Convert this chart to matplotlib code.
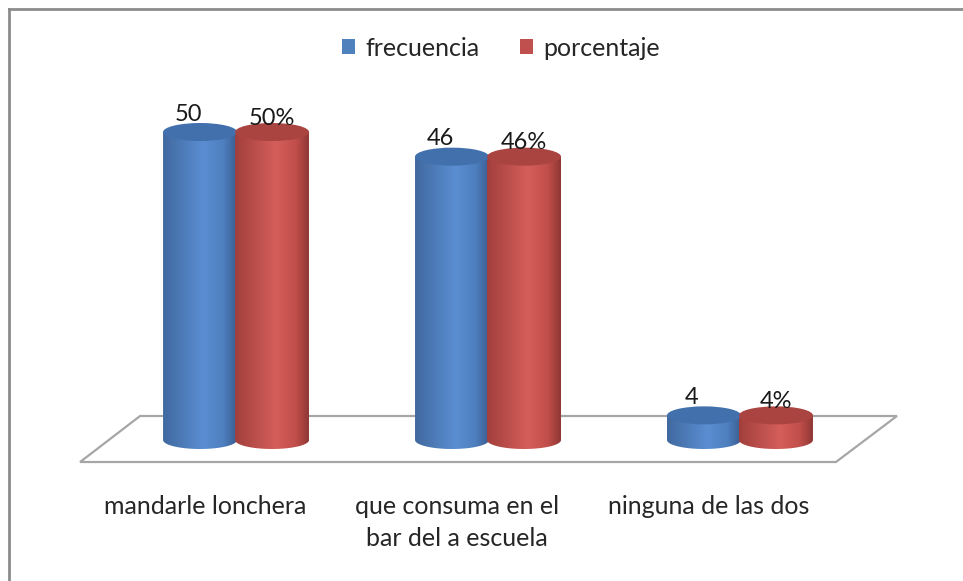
import matplotlib.pyplot as plt
import numpy as np
from matplotlib.patches import Ellipse, Polygon, Patch
from matplotlib.colors import LinearSegmentedColormap

plt.rcParams['font.family'] = ['Lato', 'DejaVu Sans']

categories = ['mandarle lonchera', 'que consuma en el\nbar del a escuela', 'ninguna de las dos']
frecuencia = [50, 46, 4]
porcentaje = [50, 46, 4]
pct_labels = ['50%', '46%', '4%']

# colores de las series (borde oscuro, centro claro, borde oscuro)
blue_cmap = LinearSegmentedColormap.from_list(
    'b', [(0, '#41699f'), (0.55, '#5a8ed2'), (0.82, '#4e7fbf'), (1, '#3b5f92')])
red_cmap = LinearSegmentedColormap.from_list(
    'r', [(0, '#a23f3c'), (0.55, '#d45e5a'), (0.82, '#c24f4b'), (1, '#903835')])
blue_top = '#4170ac'
red_top = '#aa4441'

fig = plt.figure(figsize=(9.63, 5.81), dpi=100)
ax = fig.add_axes([0, 0, 1, 1])
ax.set_xlim(-0.794, 3.028)
ax.set_ylim(-22.89, 71.43)
ax.axis('off')

px_x = 252.0   # pixeles por categoria
px_y = 6.16    # pixeles por unidad
bar_w = 74 / px_x
red_off = 72 / px_x
ell_h = 18 / px_y

# piso en perspectiva
floor = Polygon([((140 - 200) / px_x, (440 - 416) / px_y),
                 ((897 - 200) / px_x, (440 - 416) / px_y),
                 ((836 - 200) / px_x, (440 - 462) / px_y),
                 ((80 - 200) / px_x, (440 - 462) / px_y)],
                closed=True, fill=False, edgecolor='#a6a6a6', lw=1.6, zorder=1)
ax.add_patch(floor)


def cylinder(xc, h, cmap, top_color):
    x0, x1 = xc - bar_w / 2, xc + bar_w / 2
    t = np.linspace(np.pi, 2 * np.pi, 40)
    arc = np.column_stack([xc + bar_w / 2 * np.cos(t), ell_h / 2 * np.sin(t)])
    pts = np.vstack([[x0, h], arc, [x1, h]])
    body = Polygon(pts, closed=True, transform=ax.transData)
    grad = np.linspace(0, 1, 200).reshape(1, -1)
    im = ax.imshow(grad, cmap=cmap, aspect='auto',
                   extent=(x0, x1, -ell_h, h), zorder=3, interpolation='bilinear')
    im.set_clip_path(body)
    ax.add_patch(Ellipse((xc, h), bar_w, ell_h, facecolor=top_color,
                         edgecolor='none', zorder=4))


x = np.arange(len(categories))
for i in x:
    cylinder(i, frecuencia[i], blue_cmap, blue_top)
    ax.text(i - 12 / px_x, frecuencia[i] + 18 / px_y, str(frecuencia[i]),
            ha='center', va='center', fontsize=17, color='#1a1a1a', zorder=6)
for i in x:
    cylinder(i + red_off, porcentaje[i], red_cmap, red_top)
    ax.text(i + red_off, porcentaje[i] + 14 / px_y, pct_labels[i],
            ha='center', va='center', fontsize=17, color='#1a1a1a', zorder=6)

for i, c in enumerate(categories):
    ax.text(i + 5 / px_x, (440 - 495) / px_y, c, ha='center', va='top',
            fontsize=18, color='#262626', linespacing=1.5)

handles = [Patch(facecolor='#4f81bd', label='frecuencia'),
           Patch(facecolor='#c0504d', label='porcentaje')]
fig.legend(handles=handles, loc='center', bbox_to_anchor=(0.52, 0.917), ncol=2,
           frameon=False, fontsize=18, handlelength=0.55, handleheight=0.55,
           handletextpad=0.4, columnspacing=1.6, labelcolor='#262626')

# borde del grafico (solo arriba e izquierda visibles)
fig.add_artist(plt.Line2D([9 / 963, 9 / 963], [0, 1 - 9 / 581], color='#8c8c8c', lw=2))
fig.add_artist(plt.Line2D([9 / 963, 1], [1 - 9 / 581, 1 - 9 / 581], color='#8c8c8c', lw=2))

fig.savefig('out.png', dpi=100)
